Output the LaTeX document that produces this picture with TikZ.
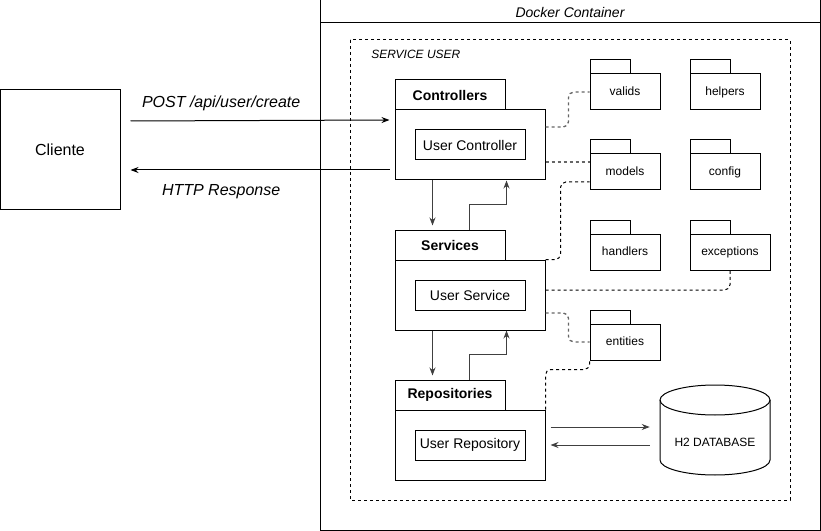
\documentclass[tikz,border=0pt]{standalone}
\usepackage{fontspec}
\setmainfont{Liberation Sans}
\usetikzlibrary{calc,arrows.meta}

\tikzset{
  box/.style={draw, rectangle, inner sep=0pt, line width=0.75pt},
  pkgbody/.style={box, minimum width=112.5pt, minimum height=52.5pt},
  pkgtab/.style={box, minimum width=82.5pt, minimum height=22.5pt, font=\fontsize{10.5}{12}\selectfont\bfseries},
  inner/.style={box, minimum width=82.5pt, minimum height=22.5pt, font=\fontsize{10.5}{12}\selectfont},
  folder/.style={box, minimum width=52.5pt, minimum height=27pt, font=\fontsize{9}{10}\selectfont},
  foldertab/.style={box, minimum width=30pt, minimum height=10.5pt},
  arr/.style={line width=0.75pt, -{Stealth[length=6pt,width=4.5pt]}},
  garr/.style={arr, draw=black!75},
  link/.style={line width=0.75pt, dash pattern=on 2.25pt off 2.25pt, rounded corners=4pt},
  glink/.style={link, draw=black!60, line width=1pt},
  msg/.style={font=\fontsize{12}{14}\selectfont\itshape}
}

\begin{document}
\begin{tikzpicture}[x=0.75pt,y=-0.75pt]
  \useasboundingbox (0,0) rectangle (821,531);

  % container and service frame
  \draw[line width=0.75pt] (320,0) rectangle (820,530);
  \draw[line width=0.75pt] (320,23) -- (820,23);
  \node[font=\fontsize{10.5}{12}\selectfont\itshape] (docker) at (570,12) {Docker Container};
  \draw[link, rounded corners=0pt] (350,40) rectangle (790,500);
  \node[anchor=west, font=\fontsize{9}{10}\selectfont\itshape, inner sep=0pt] (srv) at (371,54) {SERVICE USER};

  % client
  \node[box, minimum width=90pt, minimum height=90pt, font=\fontsize{12}{14}\selectfont] (cli) at (60,150) {Cliente};

  % layers
  \node[pkgtab] (ctrltab) at (450,95) {Controllers};
  \node[pkgbody] (ctrlbody) at (470,145) {};
  \node[inner] (ctrl) at (470,145) {User Controller};

  \node[pkgtab] (svctab) at (450,245) {Services};
  \node[pkgbody] (svcbody) at (470,295) {};
  \node[inner] (svc) at (470,295) {User Service};

  \node[pkgtab] (repotab) at (450,395) {Repositories};
  \node[pkgbody] (repobody) at (470,445) {};
  \node[inner] (repo) at (470,445) {User Repository};

  % packages
  \node[foldertab] (validstab) at (610,67) {};
  \node[folder] (valids) at (625,92) {\raisebox{2pt}{valids}};
  \node[foldertab] (helperstab) at (710,67) {};
  \node[folder] (helpers) at (725,92) {\raisebox{2pt}{helpers}};
  \node[foldertab] (modelstab) at (610,147) {};
  \node[folder] (models) at (625,172) {\raisebox{2pt}{models}};
  \node[foldertab] (configtab) at (710,147) {};
  \node[folder] (config) at (725,172) {\raisebox{2pt}{config}};
  \node[foldertab] (handlerstab) at (610,227) {};
  \node[folder] (handlers) at (625,252) {\raisebox{2pt}{handlers}};
  \node[foldertab] (exceptionstab) at (710,227) {};
  \node[folder, minimum width=60pt] (exceptions) at (730,252) {\raisebox{2pt}{exceptions}};
  \node[foldertab] (entitiestab) at (610,317) {};
  \node[folder] (entities) at (625,342) {\raisebox{2pt}{entities}};

  % database
  \node[minimum width=82.5pt, minimum height=67.5pt, inner sep=0pt] (db) at (715,430) {};
  \draw[line width=0.75pt] (660,400) -- (660,460) arc (180:0:55 and 15) -- (770,400);
  \draw[line width=0.75pt] (715,400) ellipse (55 and 15);
  \node[font=\fontsize{9}{10}\selectfont] (dbtext) at (715,442) {H2 DATABASE};

  % requests
  \draw[arr] ($(cli.east)+(10,-29)$) -- ($(ctrlbody.west)+(-5,-25)$)
    node[msg, pos=0.35, above=4pt] (post) {POST /api/user/create};
  \draw[arr] ($(ctrlbody.west)+(-5,25)$) -- ($(cli.east)+(10,20)$)
    node[msg, pos=0.65, below=7pt] (resp) {HTTP Response};

  \draw[garr] ($(ctrlbody.south west)+(38,0)$) -- ($(svctab.north west)+(38,-4)$);
  \draw[garr] ($(svctab.north west)+(75,0)$) -- ++(0,-25) -| ($(ctrlbody.south west)+(112,0)$);
  \draw[garr] ($(svcbody.south west)+(38,0)$) -- ($(repotab.north west)+(38,-4)$);
  \draw[garr] ($(repotab.north west)+(75,0)$) -- ++(0,-25) -| ($(svcbody.south west)+(112,0)$);

  \draw[garr] ($(repobody.east)+(5,-18)$) -- ($(db.west)+(-10,-3)$);
  \draw[garr] ($(db.west)+(-10,15)$) -- ($(repobody.east)+(5,0)$);

  % dependencies
  \draw[glink] ($(ctrlbody.east)+(0,-18)$) -- ++(23,0) |- (valids.west);
  \draw[glink] ($(ctrlbody.east)+(0,17)$) -- ($(models.west)+(0,-10)$);
  \draw[link] (svcbody.north east) -- ++(15,0) |- ($(models.west)+(0,10)$);
  \draw[link] ($(svcbody.east)+(0,-5)$) -| (exceptions.south);
  \draw[glink] ($(svcbody.east)+(0,18)$) -- ++(23,0) |- (entities.west);
  \draw[link] (repobody.north east) -- ++(0,-40) -| (entities.south west);
\end{tikzpicture}
\end{document}
